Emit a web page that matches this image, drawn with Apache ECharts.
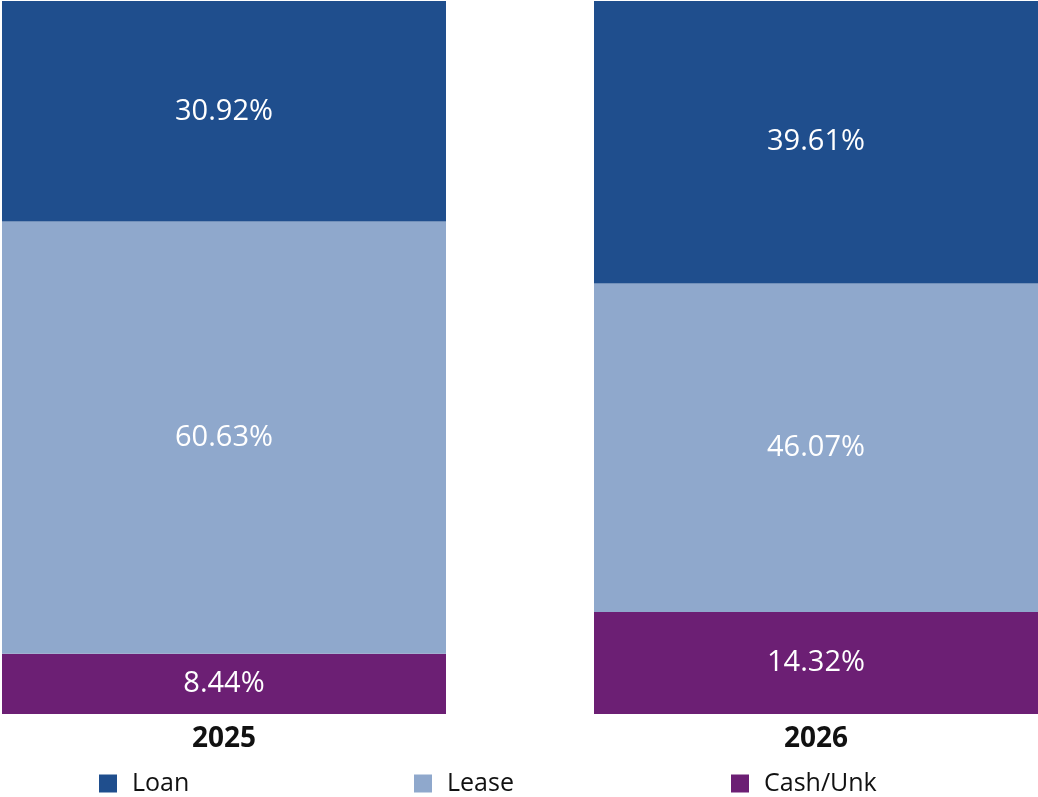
<!DOCTYPE html>
<html>
<head>
<meta charset="utf-8">
<script src="https://cdn.jsdelivr.net/npm/echarts@6/dist/echarts.min.js"></script>
<style>
  html, body { margin: 0; padding: 0; background: #ffffff; }
  #chart { width: 1038px; height: 797px; }
</style>
</head>
<body>
<div id="chart"></div>
<script>
// Financing mix by model year (percent of total)
const years = ['2025', '2026'];
const cashUnk = [8.44, 14.32];
const lease = [60.63, 46.07];
const loan = [30.92, 39.61];

const FONT = '"Open Sans", "Noto Sans", sans-serif';
const COLORS = { loan: '#1f4e8d', lease: '#8fa8cc', cash: '#6c1f74' };

const chart = echarts.init(document.getElementById('chart'), null, { renderer: 'canvas' });

const segLabel = {
  show: true,
  position: 'inside',
  color: '#ffffff',
  fontFamily: FONT,
  fontSize: 29,
  formatter: p => p.value.toFixed(2) + '%'
};

function legendAt(left, name) {
  return {
    left: left,
    top: 766,
    data: [name],
    icon: 'rect',
    itemWidth: 18,
    itemHeight: 18,
    selectedMode: false,
    textStyle: {
      color: '#111111',
      fontFamily: FONT,
      fontSize: 25,
      padding: [3, 0, 0, 10]
    }
  };
}

chart.setOption({
  animation: false,
  backgroundColor: '#ffffff',
  legend: [
    legendAt(94, 'Loan'),
    legendAt(409, 'Lease'),
    legendAt(726, 'Cash/Unk')
  ],
  // plot area runs past the canvas edges so the bars sit where they should
  grid: { left: -72, right: -74, top: 1, bottom: 83, outerBoundsMode: 'none', containLabel: false },
  xAxis: {
    type: 'category',
    data: years,
    axisLine: { show: false },
    axisTick: { show: false },
    axisLabel: {
      color: '#111111',
      fontFamily: FONT,
      fontSize: 28,
      fontWeight: 'bold',
      margin: 11
    }
  },
  yAxis: {
    type: 'value',
    min: 0,
    max: 100,
    show: false,
    splitLine: { show: false }
  },
  series: [
    { name: 'Cash/Unk', type: 'bar', stack: 'mix', barWidth: 444, data: cashUnk,
      itemStyle: { color: COLORS.cash }, label: segLabel },
    { name: 'Lease', type: 'bar', stack: 'mix', barWidth: 444, data: lease,
      itemStyle: { color: COLORS.lease }, label: segLabel },
    { name: 'Loan', type: 'bar', stack: 'mix', barWidth: 444, data: loan,
      itemStyle: { color: COLORS.loan }, label: segLabel }
  ]
});
</script>
</body>
</html>
